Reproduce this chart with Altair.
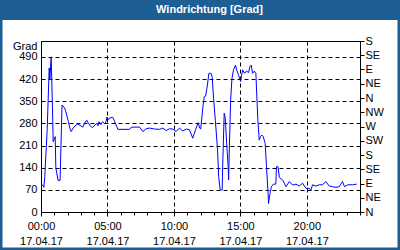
import altair as alt
import pandas as pd

TITLE = "Windrichtung [Grad]"
DATE = "2017-04-17"
TIMES = ["00:00","00:08","00:13","00:17","00:22","00:28","00:37","00:40","00:46","00:53",
         "00:55","01:04","01:07","01:17","01:26","01:35","01:47","01:52","02:02","02:10",
         "02:16","02:25","02:34","02:46","03:00","03:09","03:17","03:26","03:35","03:44",
         "03:53","04:11","04:17","04:22","04:30","04:38","04:48","04:53","04:58","05:05",
         "05:10","05:24","05:33","05:42","05:47","06:40","06:48","07:25","07:40","07:55",
         "08:10","08:33","08:56","09:10","09:25","09:40","09:55","10:10","10:25","10:40",
         "10:56","11:10","11:25","11:38","11:50","11:56","12:01","12:11","12:17","12:23",
         "12:29","12:38","12:47","12:53","12:59","13:07","13:17","13:22","13:29","13:38",
         "13:40","13:47","13:52","13:58","14:05","14:07","14:10","14:16","14:22","14:29",
         "14:38","14:43","14:52","15:01","15:10","15:19","15:28","15:37","15:43","15:49",
         "15:55","16:03","16:10","16:13","16:19","16:25","16:31","16:37","16:43","16:52",
         "16:58","17:05","17:07","17:14","17:20","17:29","17:40","17:43","17:50","17:56",
         "18:11","18:26","18:41","18:56","19:11","19:26","19:41","19:56","20:11","20:18",
         "20:26","20:41","20:56","21:11","21:26","21:41","21:56","22:11","22:26","22:41",
         "22:50","23:05","23:26","23:45"]
VALUES = [85,85,78,112,180,260,455,420,490,290,
          222,238,140,100,100,338,328,317,290,265,
          254,265,272,278,272,268,281,290,280,270,
          267,280,272,285,276,285,278,285,300,292,
          297,299,285,270,261,261,268,268,254,263,
          265,262,261,265,257,263,262,254,265,256,
          262,260,233,261,282,265,262,333,364,366,
          390,438,438,426,359,290,196,112,70,70,
          143,312,296,217,143,101,196,354,422,449,
          464,449,432,412,449,438,445,440,459,464,
          438,445,438,385,290,227,238,243,238,217,
          143,59,27,59,80,88,88,143,143,109,
          101,80,96,85,88,82,91,75,75,68,
          86,82,86,86,96,82,80,78,80,96,
          80,86,86,88]
Y_TICKS = [0, 70, 140, 210, 280, 350, 420, 490]
DIR_TICKS = list(range(0, 541, 45))
DIRS = ["N", "NE", "E", "SE", "S", "SW", "W", "NW"]
MAJOR_HOURS = [0, 5, 10, 15, 20]
MINOR_HOURS = list(range(0, 25))

df = pd.DataFrame({"ts": [f"{DATE}T{t}" for t in TIMES], "v": VALUES})

def dt(h):
    if h >= 24:
        return alt.DateTime(year=2017, month=4, date=18, hours=h - 24)
    return alt.DateTime(year=2017, month=4, date=17, hours=h)

xscale = alt.Scale(domain=[dt(0), dt(24)], nice=False)
yscale = alt.Scale(domain=[0, 540], nice=False, zero=True)
FONT = "Liberation Sans"
BLUE = "#1D5E94"

main = alt.Chart(df).mark_line(color="#0000FF", strokeWidth=1, interpolate="linear").encode(
    x=alt.X("ts:T", scale=xscale, title=None,
            axis=alt.Axis(values=[dt(h) for h in MAJOR_HOURS], grid=True,
                          gridColor="black", gridDash=[4, 3], gridOpacity=1,
                          tickSize=4, tickColor="black", domainColor="black",
                          labelExpr="[timeFormat(datum.value, '%H:%M'), timeFormat(datum.value, '%d.%m.%y')]",
                          labelLineHeight=15, labelPadding=4, labelFont=FONT, labelFontSize=11,
                          labelColor="black", labelFlush=False, labelOverlap=False)),
    y=alt.Y("v:Q", scale=yscale,
            axis=alt.Axis(values=Y_TICKS, grid=True, gridColor="black", gridDash=[4, 3],
                          gridOpacity=1, ticks=False, labelPadding=4, domainColor="black",
                          labelFont=FONT, labelFontSize=11, labelColor="black",
                          title="Grad", titleAngle=0, titleAlign="right", titleBaseline="middle",
                          titleX=-4, titleY=5, titleFont=FONT, titleFontSize=11,
                          titleFontWeight="normal", titleColor="black")),
)

second = alt.Chart(df).mark_line(opacity=0).encode(
    x=alt.X("ts:T", scale=xscale, title=None,
            axis=alt.Axis(orient="bottom", values=[dt(h) for h in MINOR_HOURS], labels=False,
                          grid=False, domain=False, tickSize=3, tickColor="black")),
    y=alt.Y("v:Q", scale=yscale, title=None,
            axis=alt.Axis(orient="right", values=DIR_TICKS, grid=False, tickSize=4,
                          tickColor="black", domainColor="black", labelPadding=1,
                          labelExpr="%s[floor(datum.value / 45) %% 8]" % str(DIRS),
                          labelFont=FONT, labelFontSize=11, labelColor="black",
                          labelFlush=False, labelOverlap=False)),
)

frame = alt.Chart(pd.DataFrame({"a": [0]})).mark_rect(fill=None, stroke=BLUE, strokeWidth=5).encode(
    x=alt.value(-41), x2=alt.value(359), y=alt.value(-41), y2=alt.value(209))
bar = alt.Chart(pd.DataFrame({"a": [0]})).mark_rect(color=BLUE).encode(
    x=alt.value(-41), x2=alt.value(359), y=alt.value(-41), y2=alt.value(-21))
title = alt.Chart(pd.DataFrame({"t": [TITLE]})).mark_text(
    font=FONT, fontSize=11, fontWeight="bold", color="white", align="center", baseline="middle"
).encode(text="t:N", x=alt.value(168.5), y=alt.value(-31))

chart = alt.layer(main, second, frame, bar, title).resolve_scale(
    x="independent", y="independent"
).properties(
    width=319, height=171,
    autosize=alt.AutoSizeParams(type="none"),
    padding={"left": 41, "top": 41, "right": 40, "bottom": 38},
    background="white",
).configure_view(stroke="black", strokeWidth=1)

chart.save("out.html", embed_options={"renderer": "svg", "actions": False})
